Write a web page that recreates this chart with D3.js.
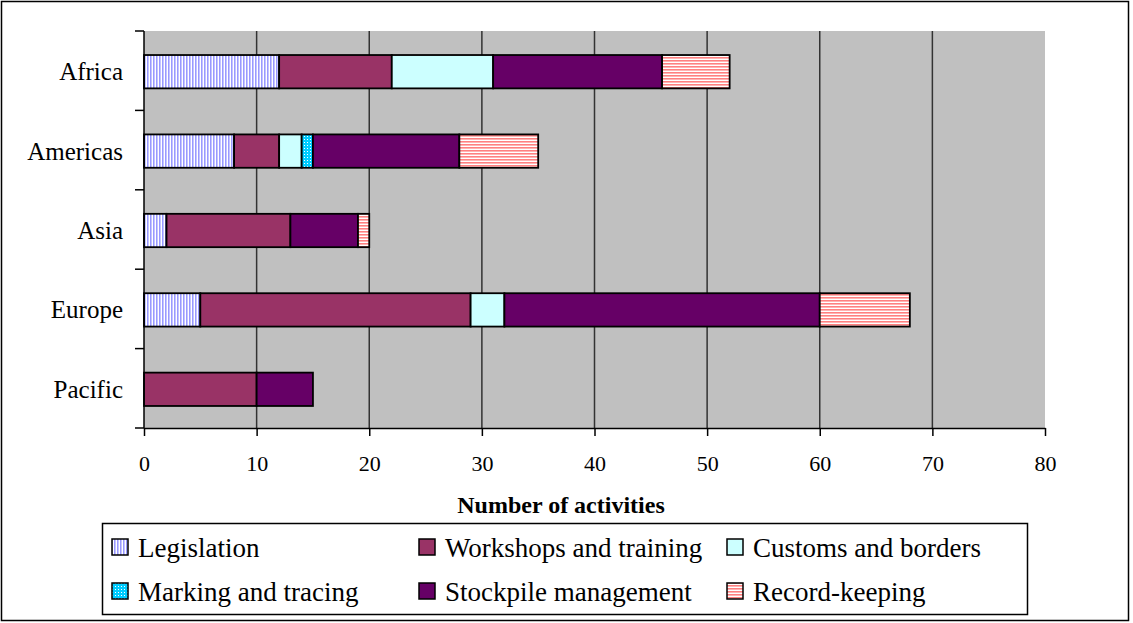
<!DOCTYPE html>
<html>
<head>
<meta charset="utf-8">
<script src="https://cdn.jsdelivr.net/npm/d3@7/dist/d3.min.js"></script>
<style>
  html, body { margin: 0; padding: 0; background: #fff; }
  svg { display: block; }
  text { font-family: "Liberation Serif", "Times New Roman", serif; fill: #000; }
</style>
</head>
<body>
<svg id="chart" width="1133" height="623"></svg>
<script>
// ---- data ----
const categories = ["Africa", "Americas", "Asia", "Europe", "Pacific"];
const seriesNames = ["Legislation", "Workshops and training", "Customs and borders",
                     "Marking and tracing", "Stockpile management", "Record-keeping"];
const legislation = [12, 8, 2, 5, 0];
const workshops   = [10, 4, 11, 24, 10];
const customs     = [9, 2, 0, 3, 0];
const marking     = [0, 1, 0, 0, 0];
const stockpile   = [15, 13, 6, 28, 5];
const recordKeep  = [6, 7, 1, 8, 0];
const xTicks = [0, 10, 20, 30, 40, 50, 60, 70, 80];
const xTitle = "Number of activities";

const seriesValues = [legislation, workshops, customs, marking, stockpile, recordKeep];
const fills = ["url(#pLeg)", "#993366", "#CCFFFF", "url(#pMark)", "#660066", "url(#pRec)"];

const svg = d3.select("#chart");

// ---- patterns ----
const defs = svg.append("defs");
const pLeg = defs.append("pattern").attr("id", "pLeg").attr("patternUnits", "userSpaceOnUse")
  .attr("width", 3).attr("height", 3);
pLeg.append("rect").attr("width", 3).attr("height", 3).attr("fill", "#ffffff");
pLeg.append("rect").attr("x", 0).attr("width", 1).attr("height", 3).attr("fill", "#9999FF");
pLeg.append("rect").attr("x", 1).attr("width", 1).attr("height", 3).attr("fill", "#C4C4FF");

const pMark = defs.append("pattern").attr("id", "pMark").attr("patternUnits", "userSpaceOnUse")
  .attr("width", 3).attr("height", 3);
pMark.append("rect").attr("width", 3).attr("height", 3).attr("fill", "#00CCFF");
pMark.append("rect").attr("x", 1).attr("y", 1).attr("width", 1).attr("height", 1).attr("fill", "#ffffff");

const pRec = defs.append("pattern").attr("id", "pRec").attr("patternUnits", "userSpaceOnUse")
  .attr("width", 3).attr("height", 3);
pRec.append("rect").attr("width", 3).attr("height", 3).attr("fill", "#ffffff");
pRec.append("rect").attr("y", 0).attr("width", 3).attr("height", 1).attr("fill", "#FF8080");
pRec.append("rect").attr("y", 1).attr("width", 3).attr("height", 1).attr("fill", "#FFB3B3");

// ---- layout ----
const plot = { left: 144, right: 1045, top: 31, bottom: 428 };

const x = d3.scaleLinear().domain([0, 80]).range([plot.left, plot.right]);
const y = d3.scaleBand().domain(categories).range([plot.top, plot.bottom])
  .paddingInner(0.58).paddingOuter(0.29);

// outer border
svg.append("rect").attr("x", 1.5).attr("y", 1.5).attr("width", 1127).attr("height", 619)
  .attr("fill", "#fff").attr("stroke", "#000").attr("stroke-width", 1.5);

// plot background
svg.append("rect").attr("x", plot.left).attr("y", plot.top)
  .attr("width", plot.right - plot.left).attr("height", plot.bottom - plot.top)
  .attr("fill", "#C0C0C0");

// gridlines
svg.append("g").selectAll("line").data(xTicks.filter(d => d > 0 && d < 80)).join("line")
  .attr("x1", d => x(d)).attr("x2", d => x(d))
  .attr("y1", plot.top).attr("y2", plot.bottom)
  .attr("stroke", "#333").attr("stroke-width", 1.5);

// stacked data
const stackData = categories.map((c, i) => {
  const o = { cat: c };
  seriesNames.forEach((s, j) => { o[s] = seriesValues[j][i]; });
  return o;
});
const stacked = d3.stack().keys(seriesNames)(stackData);

const barOffset = 1;
svg.append("g").selectAll("g").data(stacked).join("g")
  .attr("fill", (d, i) => fills[i])
  .selectAll("rect").data(d => d.filter(p => p[1] - p[0] > 0)).join("rect")
  .attr("x", p => x(p[0])).attr("width", p => x(p[1]) - x(p[0]))
  .attr("y", p => y(p.data.cat) + barOffset).attr("height", y.bandwidth())
  .attr("stroke", "#000").attr("stroke-width", 1.8);

// x axis
const xAxis = svg.append("g").attr("transform", `translate(0,${plot.bottom})`)
  .call(d3.axisBottom(x).tickValues(xTicks).tickSize(8).tickSizeOuter(0));
xAxis.select(".domain").attr("stroke", "#000").attr("stroke-width", 1.5);
xAxis.selectAll(".tick line").attr("stroke", "#000").attr("stroke-width", 1.5);
xAxis.selectAll(".tick text").attr("dy", null).attr("y", 43)
  .style("font-family", '"Liberation Serif", serif').style("font-size", "22px").attr("fill", "#000");

// y axis line + band-boundary ticks
svg.append("line").attr("x1", plot.left).attr("x2", plot.left)
  .attr("y1", plot.top).attr("y2", plot.bottom).attr("stroke", "#000").attr("stroke-width", 1.5);
const boundaries = categories.map(c => y(c) - y.step() * y.paddingOuter()).concat([plot.bottom]);
svg.append("g").selectAll("line").data(boundaries).join("line")
  .attr("x1", plot.left - 9).attr("x2", plot.left)
  .attr("y1", d => d).attr("y2", d => d)
  .attr("stroke", "#000").attr("stroke-width", 1.5);

// category labels
svg.append("g").selectAll("text").data(categories).join("text")
  .attr("x", 123).attr("y", c => y(c) + barOffset + y.bandwidth() / 2 + 8.5)
  .attr("text-anchor", "end").style("font-size", "25px").text(c => c);

// x title
svg.append("text").attr("x", 561).attr("y", 513).attr("text-anchor", "middle")
  .style("font-size", "24px").style("font-weight", "bold").text(xTitle);

// legend
const legend = svg.append("g");
legend.append("rect").attr("x", 102.5).attr("y", 523.5).attr("width", 925).attr("height", 91)
  .attr("fill", "#fff").attr("stroke", "#000").attr("stroke-width", 1.5);
const colX = [112, 419, 727];
const rowY = [547, 591];
seriesNames.forEach((s, i) => {
  const cx = colX[i % 3], cy = rowY[Math.floor(i / 3)];
  legend.append("rect").attr("x", cx).attr("y", cy - 8).attr("width", 16).attr("height", 16)
    .attr("fill", fills[i]).attr("stroke", "#000").attr("stroke-width", 1.5);
  legend.append("text").attr("x", cx + 26).attr("y", cy + 9.5)
    .style("font-size", "27px").text(s);
});
</script>
</body>
</html>
